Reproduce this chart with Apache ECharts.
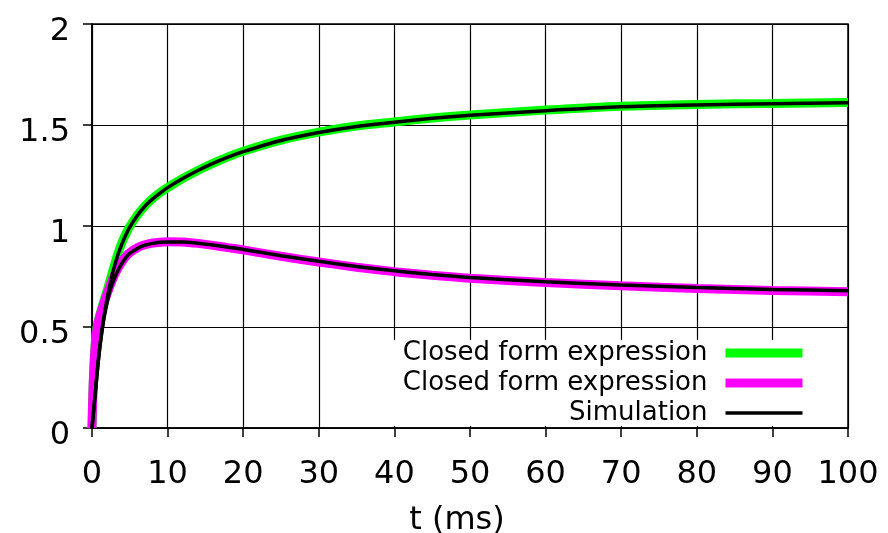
<!DOCTYPE html>
<html>
<head>
<meta charset="utf-8">
<script src="https://cdn.jsdelivr.net/npm/echarts@6/dist/echarts.min.js"></script>
<style>
  html, body { margin: 0; padding: 0; background: #fff; }
  #chart { width: 888px; height: 533px; }
</style>
</head>
<body>
<div id="chart"></div>
<script>
// time axis (ms)
var t = [0, 0.1, 0.25, 0.5, 0.75, 1, 1.5, 2, 2.5, 3, 3.5, 4, 4.5, 5, 6, 7, 8, 9, 10, 12, 14, 16, 18, 20, 25, 30, 35, 40, 45, 50, 60, 70, 80, 90, 100];
// closed form expressions
var closedGreen = [0, 0.15, 0.30, 0.45, 0.52, 0.555, 0.62, 0.68, 0.745, 0.81, 0.87, 0.922, 0.963, 0.998, 1.054, 1.099, 1.135, 1.165, 1.19, 1.235, 1.275, 1.31, 1.342, 1.37, 1.425, 1.465, 1.495, 1.515, 1.535, 1.55, 1.574, 1.593, 1.602, 1.607, 1.612];
var closedMagenta = [0, 0.15, 0.30, 0.44, 0.51, 0.55, 0.61, 0.665, 0.715, 0.76, 0.795, 0.825, 0.85, 0.868, 0.892, 0.907, 0.916, 0.92, 0.922, 0.921, 0.914, 0.904, 0.893, 0.882, 0.85, 0.822, 0.796, 0.774, 0.756, 0.741, 0.72, 0.704, 0.691, 0.681, 0.674];
// simulations
var simGreen = [0, 0.04, 0.10, 0.20, 0.30, 0.39, 0.53, 0.64, 0.73, 0.805, 0.865, 0.915, 0.958, 0.995, 1.052, 1.098, 1.133, 1.163, 1.19, 1.235, 1.275, 1.31, 1.341, 1.368, 1.423, 1.463, 1.493, 1.514, 1.533, 1.548, 1.571, 1.59, 1.599, 1.605, 1.61];
var simMagenta = [0, 0.04, 0.10, 0.20, 0.30, 0.39, 0.525, 0.62, 0.695, 0.745, 0.785, 0.818, 0.845, 0.864, 0.889, 0.905, 0.914, 0.919, 0.921, 0.921, 0.915, 0.906, 0.895, 0.884, 0.853, 0.825, 0.80, 0.778, 0.76, 0.745, 0.724, 0.708, 0.695, 0.686, 0.679];

var xTicks = [0, 100, 10];   // min, max, step
var yTicks = [0, 2, 0.5];

function pairs(xs, ys) {
	var out = [];
	for (var i = 0; i < xs.length; i++) out.push([xs[i], ys[i]]);
	return out;
}

var FONT = 'DejaVu Sans';
var chart = echarts.init(document.getElementById('chart'));

function lineSeries(name, ys, color, width) {
	return {
		name: name,
		type: 'line',
		data: pairs(t, ys),
		symbol: 'none',
		smooth: 0.25,
		lineStyle: { color: color, width: width },
		itemStyle: { color: color }
	};
}

var option = {
	animation: false,
	backgroundColor: '#fff',
	grid: {
		left: 92, right: 40, top: 24, bottom: 105,
		outerBoundsMode: 'none',
		show: true, borderColor: '#000', borderWidth: 1.5
	},
	legend: {
		orient: 'vertical',
		align: 'right',
		right: 42,
		top: 340,
		padding: [0, 39, 0, 14],
		backgroundColor: '#fff',
		itemWidth: 77,
		itemHeight: 10,
		itemGap: 4,
		itemStyle: { opacity: 0 },
		formatter: function (name) { return name.trim(); },
		textStyle: { fontFamily: FONT, fontSize: 26, color: '#000', padding: [0, 13, 0, 0] },
		data: [
			{ name: 'Closed form expression', lineStyle: { width: 9 } },
			{ name: 'Closed form expression ', lineStyle: { width: 9 } },
			{ name: 'Simulation', lineStyle: { width: 3.5 } }
		]
	},
	xAxis: {
		type: 'value',
		min: xTicks[0], max: xTicks[1], interval: xTicks[2],
		name: 't (ms)',
		nameLocation: 'middle',
		nameGap: 77,
		nameTextStyle: { fontFamily: FONT, fontSize: 32, color: '#000', padding: [0, 26, 0, 0] },
		axisLine: { lineStyle: { color: '#000', width: 1.5 } },
		axisTick: { inside: false, length: 9, lineStyle: { color: '#000', width: 1.5 } },
		axisLabel: { fontFamily: FONT, fontSize: 32, color: '#000', margin: 31 },
		splitLine: { show: true, lineStyle: { color: '#000', width: 1.2 } }
	},
	yAxis: {
		type: 'value',
		min: yTicks[0], max: yTicks[1], interval: yTicks[2],
		axisLine: { show: true, lineStyle: { color: '#000', width: 1.5 } },
		axisTick: { show: true, inside: false, length: 9, lineStyle: { color: '#000', width: 1.5 } },
		axisLabel: { fontFamily: FONT, fontSize: 32, color: '#000', margin: 22, verticalAlign: 'top', lineHeight: 16 },
		splitLine: { show: true, lineStyle: { color: '#000', width: 1.2 } }
	},
	series: [
		lineSeries('Closed form expression', closedGreen, '#00ff00', 9),
		lineSeries('Closed form expression ', closedMagenta, '#ff00ff', 9),
		lineSeries('Simulation', simGreen, '#000', 3.5),
		lineSeries('Simulation', simMagenta, '#000', 3.5)
	]
};
chart.setOption(option);
</script>
</body>
</html>
